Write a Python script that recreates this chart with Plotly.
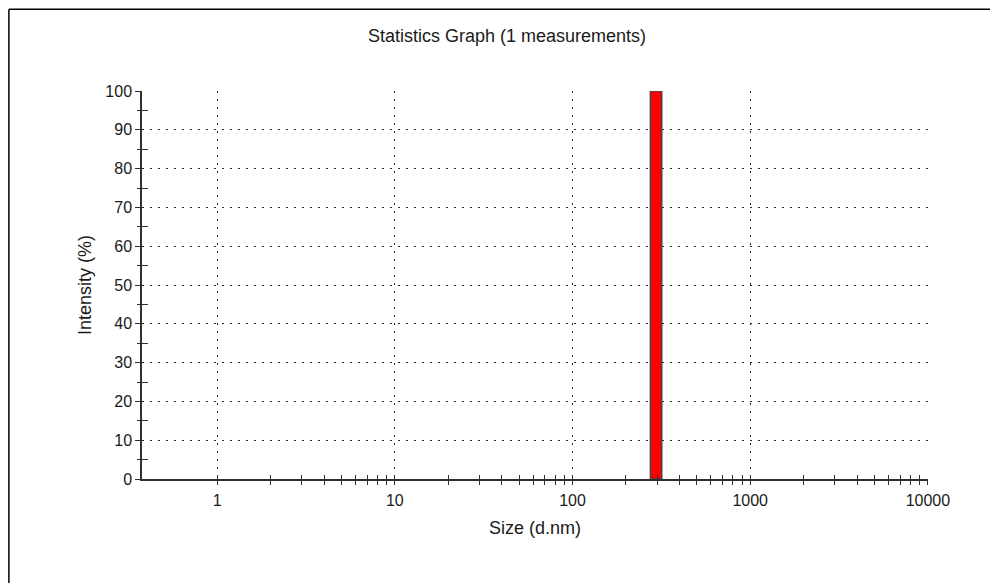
import plotly.graph_objects as go

# ---- data ----
size_ticks = [1, 10, 100, 1000, 10000]
size_tick_text = ["1", "10", "100", "1000", "10000"]
bin_lower = [274.4]      # d.nm, lower edge of the populated size class
bin_upper = [317.8]      # d.nm, upper edge
intensity = [100.0]      # %
y_ticks = [0, 10, 20, 30, 40, 50, 60, 70, 80, 90, 100]

minor_x = [m * d for d in [1, 10, 100, 1000] for m in range(2, 10)]

FONT = "Liberation Sans, Arial, sans-serif"
TXT = "#1a1a1a"
AX = "#303030"
GRID = "#2a2a2a"
XR = [-0.4225, 4.0005]
YR = [0, 100]

# page body has an 8px margin; figure is sized to fit inside the window
W, H = 990, 575
OFF = 8

fig = go.Figure()

for lo, hi, v in zip(bin_lower, bin_upper, intensity):
    fig.add_trace(go.Scatter(
        x=[lo, lo, hi, hi, lo], y=[0, v, v, 0, 0],
        mode="lines", fill="toself", fillcolor="#ff0000",
        line=dict(color="#444444", width=1.5),
        hoverinfo="skip", showlegend=False))

# invisible traces to activate overlay axes (for ticks crossing the axis lines)
fig.add_trace(go.Scatter(x=[None], y=[None], xaxis="x2", yaxis="y", showlegend=False, hoverinfo="skip"))
fig.add_trace(go.Scatter(x=[None], y=[None], xaxis="x", yaxis="y2", showlegend=False, hoverinfo="skip"))

bx0 = (8.9 - 142) / 786
by1 = (479 - 9.2) / 388

fig.update_layout(
    width=W, height=H,
    margin=dict(l=142 - OFF, r=OFF + W - 928, t=91 - OFF, b=OFF + H - 479),
    paper_bgcolor="white", plot_bgcolor="white",
    font=dict(family=FONT, color=TXT),
    showlegend=False,
    title=dict(text="Statistics Graph (1 measurements)",
               x=(507 - OFF) / W, xref="container", xanchor="center",
               y=1 - (36 - OFF) / H, yref="container", yanchor="middle",
               font=dict(size=18, color=TXT, family=FONT)),
    xaxis=dict(
        type="log", range=XR,
        tickmode="array", tickvals=size_ticks, ticktext=size_tick_text,
        ticks="outside", ticklen=4, tickwidth=1.2, tickcolor=AX,
        ticklabelstandoff=2,
        minor=dict(tickmode="array", tickvals=minor_x, ticks="outside",
                   ticklen=4, tickwidth=1.2, tickcolor=AX, showgrid=False),
        showline=True, linecolor=AX, linewidth=1.5,
        showgrid=True, gridcolor=GRID, gridwidth=1, griddash="2px,6px",
        zeroline=False,
        tickfont=dict(size=16, color=TXT, family=FONT),
        title=dict(text="Size (d.nm)", font=dict(size=18, color=TXT, family=FONT), standoff=13),
    ),
    xaxis2=dict(
        type="log", range=XR, overlaying="x", anchor="y", side="bottom",
        tickmode="array", tickvals=size_ticks, showticklabels=False,
        ticks="inside", ticklen=4, tickwidth=1.2, tickcolor=AX,
        minor=dict(tickmode="array", tickvals=minor_x, ticks="inside",
                   ticklen=4, tickwidth=1.2, tickcolor=AX, showgrid=False),
        showline=False, showgrid=False, zeroline=False,
    ),
    yaxis=dict(
        range=YR, tickmode="array", tickvals=y_ticks,
        ticks="outside", ticklen=5, tickwidth=1.2, tickcolor=AX,
        minor=dict(dtick=5, tick0=0, ticks="outside", ticklen=3,
                   tickwidth=1.2, tickcolor=AX, showgrid=False),
        showline=True, linecolor=AX, linewidth=1.5,
        showgrid=True, gridcolor=GRID, gridwidth=1, griddash="2px,6px",
        zeroline=False,
        tickfont=dict(size=16, color=TXT, family=FONT),
        title=dict(text="Intensity (%)", font=dict(size=18, color=TXT, family=FONT), standoff=9),
    ),
    yaxis2=dict(
        range=YR, overlaying="y", anchor="x", side="left",
        tickmode="linear", tick0=0, dtick=10, ticks="", showticklabels=False,
        minor=dict(dtick=5, tick0=0, ticks="inside", ticklen=6,
                   tickwidth=1.2, tickcolor=AX, showgrid=False),
        showline=False, showgrid=False, zeroline=False,
    ),
    shapes=[
        dict(type="line", xref="paper", yref="paper",
             x0=bx0, x1=1.3, y0=by1, y1=by1,
             line=dict(color="black", width=1.5), layer="below"),
        dict(type="line", xref="paper", yref="paper",
             x0=bx0, x1=bx0, y0=-0.5, y1=by1,
             line=dict(color="black", width=1.5), layer="below"),
    ],
)

fig.write_html("out.html")
